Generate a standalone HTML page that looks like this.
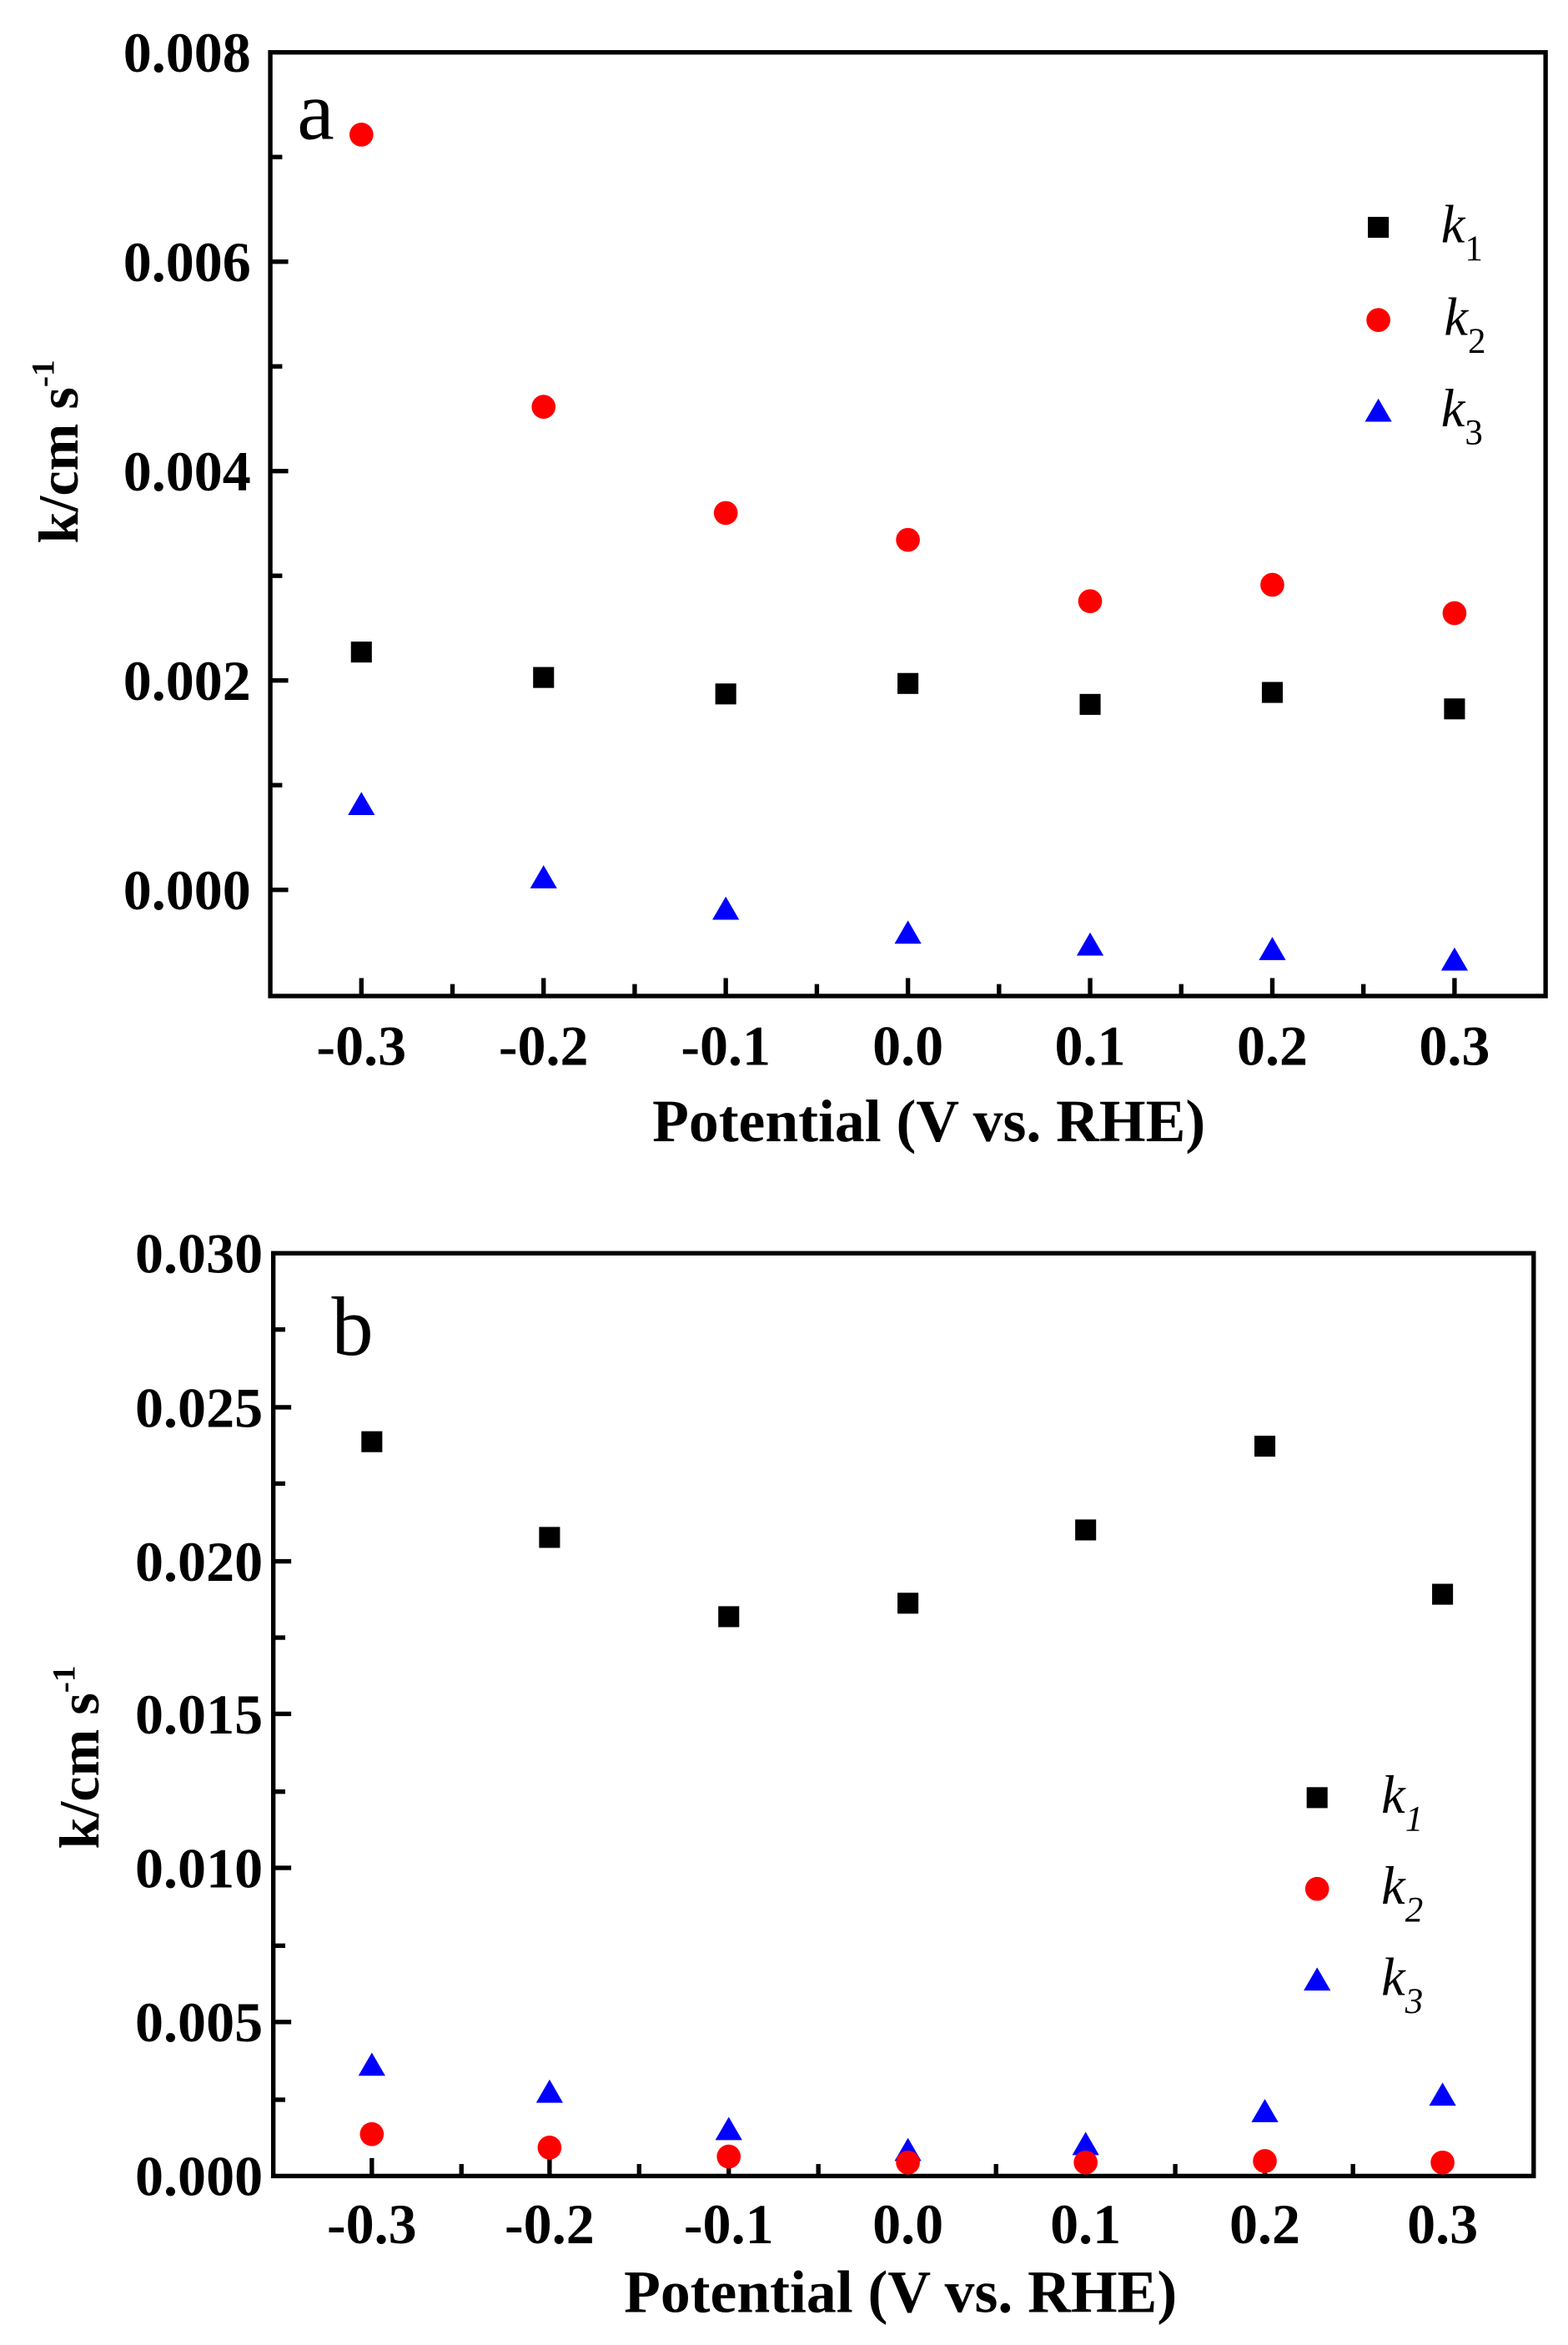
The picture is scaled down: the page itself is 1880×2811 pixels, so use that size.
<!DOCTYPE html>
<html><head><meta charset="utf-8"><style>html,body{margin:0;padding:0;background:#fff}svg{display:block}</style></head>
<body>
<svg width="1880" height="2811" viewBox="0 0 1050 1568" preserveAspectRatio="none" xmlns="http://www.w3.org/2000/svg" font-family="Liberation Serif, serif">
<defs>
<g id="sq"><rect x="-7" y="-7" width="14" height="14" fill="#000"/></g>
<g id="ci"><circle r="8" fill="#f00"/></g>
<g id="tr"><polygon points="0,-8.5 9,7 -9,7" fill="#00f"/></g>
</defs>
<!-- Panel a -->
<rect x="181" y="35" width="854" height="631" fill="none" stroke="#000" stroke-width="3"/>
<g stroke="#000" stroke-width="3">
<line x1="181" y1="105" x2="189" y2="105"/><line x1="181" y1="175" x2="193" y2="175"/><line x1="181" y1="245" x2="189" y2="245"/><line x1="181" y1="315" x2="193" y2="315"/><line x1="181" y1="385" x2="189" y2="385"/><line x1="181" y1="455" x2="193" y2="455"/><line x1="181" y1="525" x2="189" y2="525"/><line x1="181" y1="595" x2="193" y2="595"/>
<line x1="242" y1="666" x2="242" y2="654"/><line x1="303" y1="666" x2="303" y2="658"/><line x1="364" y1="666" x2="364" y2="654"/><line x1="425" y1="666" x2="425" y2="658"/><line x1="486" y1="666" x2="486" y2="654"/><line x1="547" y1="666" x2="547" y2="658"/><line x1="608" y1="666" x2="608" y2="654"/><line x1="669" y1="666" x2="669" y2="658"/><line x1="730" y1="666" x2="730" y2="654"/><line x1="791" y1="666" x2="791" y2="658"/><line x1="852" y1="666" x2="852" y2="654"/><line x1="913" y1="666" x2="913" y2="658"/><line x1="974" y1="666" x2="974" y2="654"/>
</g>
<g font-weight="bold" font-size="38" text-anchor="end">
<text x="168" y="48">0.008</text><text x="168" y="188">0.006</text><text x="168" y="328">0.004</text><text x="168" y="468">0.002</text><text x="168" y="608">0.000</text>
</g>
<g font-weight="bold" font-size="38" text-anchor="middle">
<text x="242" y="712">-0.3</text><text x="364" y="712">-0.2</text><text x="486" y="712">-0.1</text><text x="608" y="712">0.0</text><text x="730" y="712">0.1</text><text x="852" y="712">0.2</text><text x="974" y="712">0.3</text>
<text x="622" y="763" font-size="40">Potential (V vs. RHE)</text>
</g>
<text transform="translate(52,302) rotate(-90)" font-weight="bold" font-size="38" text-anchor="middle">k/cm s<tspan font-size="22" dy="-16">-1</tspan></text>
<text x="199" y="93" font-size="56">a</text>
<use href="#ci" x="242" y="90"/><use href="#ci" x="364" y="272"/><use href="#ci" x="486" y="343"/><use href="#ci" x="608" y="361"/><use href="#ci" x="730" y="402"/><use href="#ci" x="852" y="391"/><use href="#ci" x="974" y="410"/>
<use href="#sq" x="242" y="436"/><use href="#sq" x="364" y="453"/><use href="#sq" x="486" y="464"/><use href="#sq" x="608" y="457"/><use href="#sq" x="730" y="471"/><use href="#sq" x="852" y="463"/><use href="#sq" x="974" y="474"/>
<use href="#tr" x="242" y="538"/><use href="#tr" x="364" y="587"/><use href="#tr" x="486" y="608"/><use href="#tr" x="608" y="624"/><use href="#tr" x="730" y="632"/><use href="#tr" x="852" y="635"/><use href="#tr" x="974" y="642"/>
<use href="#sq" x="923" y="152"/><use href="#ci" x="923" y="214"/><use href="#tr" x="923" y="275"/>
<g font-size="36" font-style="italic">
<text x="965" y="162">k<tspan font-style="normal" font-size="24" dy="12">1</tspan></text>
<text x="967" y="224">k<tspan font-style="normal" font-size="24" dy="12">2</tspan></text>
<text x="965" y="285">k<tspan font-style="normal" font-size="24" dy="12">3</tspan></text>
</g>
<!-- Panel b -->
<rect x="183" y="838" width="844" height="617" fill="none" stroke="#000" stroke-width="3"/>
<g stroke="#000" stroke-width="3">
<line x1="183" y1="889" x2="191" y2="889"/><line x1="183" y1="941" x2="195" y2="941"/><line x1="183" y1="992" x2="191" y2="992"/><line x1="183" y1="1044" x2="195" y2="1044"/><line x1="183" y1="1095" x2="191" y2="1095"/><line x1="183" y1="1146" x2="195" y2="1146"/><line x1="183" y1="1198" x2="191" y2="1198"/><line x1="183" y1="1249" x2="195" y2="1249"/><line x1="183" y1="1301" x2="191" y2="1301"/><line x1="183" y1="1352" x2="195" y2="1352"/><line x1="183" y1="1404" x2="191" y2="1404"/>
<line x1="249" y1="1455" x2="249" y2="1443"/><line x1="309" y1="1455" x2="309" y2="1447"/><line x1="368" y1="1455" x2="368" y2="1443"/><line x1="428" y1="1455" x2="428" y2="1447"/><line x1="488" y1="1455" x2="488" y2="1443"/><line x1="548" y1="1455" x2="548" y2="1447"/><line x1="608" y1="1455" x2="608" y2="1443"/><line x1="667" y1="1455" x2="667" y2="1447"/><line x1="727" y1="1455" x2="727" y2="1443"/><line x1="787" y1="1455" x2="787" y2="1447"/><line x1="847" y1="1455" x2="847" y2="1443"/><line x1="906" y1="1455" x2="906" y2="1447"/><line x1="966" y1="1455" x2="966" y2="1443"/>
</g>
<g font-weight="bold" font-size="38" text-anchor="end">
<text x="176" y="851">0.030</text><text x="176" y="954">0.025</text><text x="176" y="1057">0.020</text><text x="176" y="1159">0.015</text><text x="176" y="1262">0.010</text><text x="176" y="1365">0.005</text><text x="176" y="1468">0.000</text>
</g>
<g font-weight="bold" font-size="38" text-anchor="middle">
<text x="249" y="1500">-0.3</text><text x="368" y="1500">-0.2</text><text x="488" y="1500">-0.1</text><text x="608" y="1500">0.0</text><text x="727" y="1500">0.1</text><text x="847" y="1500">0.2</text><text x="966" y="1500">0.3</text>
<text x="603" y="1546" font-size="40">Potential (V vs. RHE)</text>
</g>
<text transform="translate(66,1175) rotate(-90)" font-weight="bold" font-size="38" text-anchor="middle">k/cm s<tspan font-size="22" dy="-16">-1</tspan></text>
<text x="222" y="906" font-size="56">b</text>
<use href="#sq" x="249" y="964"/><use href="#sq" x="368" y="1028"/><use href="#sq" x="488" y="1081"/><use href="#sq" x="608" y="1072"/><use href="#sq" x="727" y="1023"/><use href="#sq" x="847" y="967"/><use href="#sq" x="966" y="1066"/>
<use href="#tr" x="249" y="1381"/><use href="#tr" x="368" y="1399"/><use href="#tr" x="488" y="1424"/><use href="#tr" x="608" y="1438"/><use href="#tr" x="727" y="1434"/><use href="#tr" x="847" y="1412"/><use href="#tr" x="966" y="1401"/>
<use href="#ci" x="249" y="1427"/><use href="#ci" x="368" y="1436"/><use href="#ci" x="488" y="1442"/><use href="#ci" x="608" y="1446"/><use href="#ci" x="727" y="1446"/><use href="#ci" x="847" y="1445"/><use href="#ci" x="966" y="1446"/>
<use href="#sq" x="882" y="1202"/><use href="#ci" x="882" y="1263"/><use href="#tr" x="882" y="1324"/>
<g font-size="36" font-style="italic">
<text x="925" y="1212">k<tspan font-size="24" dy="12">1</tspan></text>
<text x="925" y="1273">k<tspan font-size="24" dy="12">2</tspan></text>
<text x="925" y="1334">k<tspan font-size="24" dy="12">3</tspan></text>
</g>
</svg>
</body></html>
